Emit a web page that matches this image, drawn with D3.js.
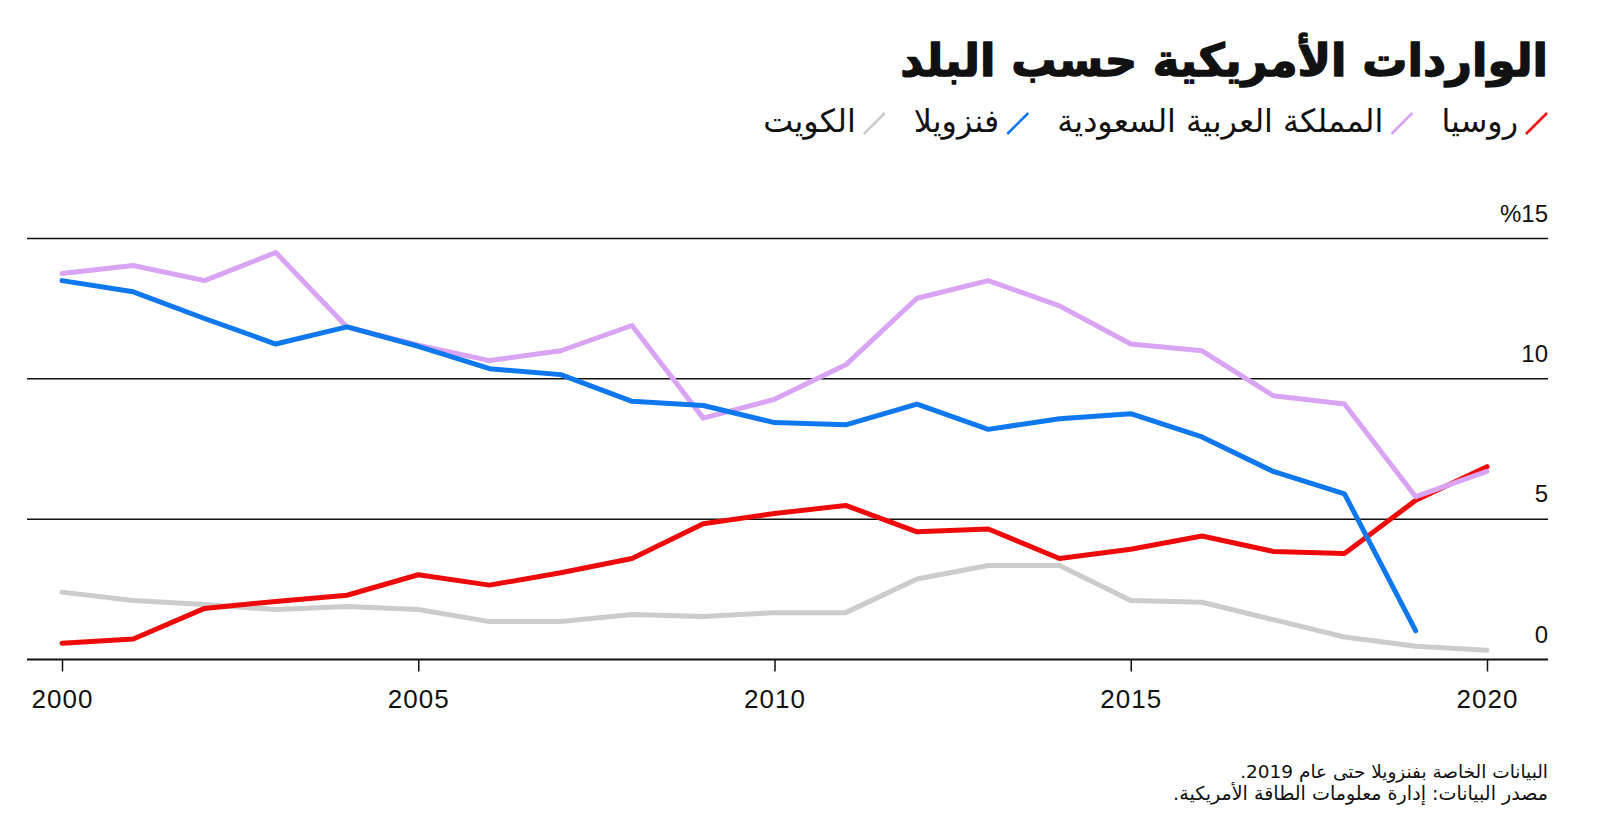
<!DOCTYPE html>
<html lang="ar">
<head>
<meta charset="utf-8">
<script src="https://cdn.jsdelivr.net/npm/d3@7/dist/d3.min.js"></script>
<style>
  html, body { margin: 0; padding: 0; background: #fff; }
  svg { display: block; }
  text { font-family: "DejaVu Sans", "Noto Sans", sans-serif; fill: #111; }
</style>
</head>
<body>
<svg id="chart" width="1600" height="819"></svg>
<script>
const years = d3.range(2000, 2021);
const russia    = [0.58, 0.73, 1.82, 2.07, 2.29, 3.02, 2.65, 3.09, 3.6, 4.84, 5.2, 5.49, 4.55, 4.65, 3.6, 3.93, 4.4, 3.85, 3.78, 5.67, 6.87];
const saudi     = [13.75, 14.04, 13.5, 14.5, 11.85, 11.2, 10.65, 11.0, 11.9, 8.6, 9.27, 10.5, 12.87, 13.5, 12.6, 11.24, 11.0, 9.4, 9.1, 5.8, 6.7];
const venezuela = [13.5, 13.1, 12.15, 11.24, 11.85, 11.16, 10.36, 10.15, 9.2, 9.05, 8.44, 8.36, 9.1, 8.2, 8.58, 8.76, 7.93, 6.7, 5.9, 1.02];
const kuwait    = [2.4, 2.1, 1.96, 1.78, 1.89, 1.78, 1.35, 1.35, 1.6, 1.53, 1.67, 1.67, 2.87, 3.35, 3.35, 2.1, 2.04, 1.42, 0.8, 0.47, 0.33];
const yTicks = [0, 5, 10, 15];
const yTickLabels = ["0", "5", "10", "%15"];
const xTicks = [2000, 2005, 2010, 2015, 2020];
const title = "الواردات الأمريكية حسب البلد";
const legendNames = ["روسيا", "المملكة العربية السعودية", "فنزويلا", "الكويت"];
const notes = ["البيانات الخاصة بفنزويلا حتى عام 2019.", "مصدر البيانات: إدارة معلومات الطاقة الأمريكية."];

const colors = { russia: "#ee0a0a", saudi: "#d9a4f4", venezuela: "#0f78ee", kuwait: "#cccccc" };

const svg = d3.select("#chart");
const left = 27, right = 1548;
const x = d3.scaleLinear().domain([2000, 2020]).range([62, 1487]);
const y = d3.scaleLinear().domain([0, 15]).range([659.5, 238.5]);

function fitText(sel, targetWidth, startSize) {
  sel.style("font-size", startSize + "px");
  const w = sel.node().getComputedTextLength();
  const size = startSize * targetWidth / w;
  sel.style("font-size", size + "px");
  return size;
}

// Title
const tt = svg.append("text").attr("x", right).attr("y", 76).attr("text-anchor", "start")
  .attr("direction", "rtl").style("font-weight", "bold")
  .attr("stroke", "#111").attr("stroke-width", 1.4).attr("stroke-linejoin", "round")
  .text(title);
fitText(tt, 648, 44);

// Legend (RTL)
const legendColors = [colors.russia, colors.saudi, colors.venezuela, colors.kuwait];
const slashW = 22, slashGap = 8, itemGap = 28;
function drawLegend(fs) {
  const lg = svg.append("g");
  let cursor = right;
  let textTotal = 0;
  legendNames.forEach((name, i) => {
    lg.append("line").attr("x1", cursor - slashW).attr("y1", 134).attr("x2", cursor - 1).attr("y2", 113)
      .attr("stroke", legendColors[i]).attr("stroke-width", 2.5);
    const t = lg.append("text").attr("x", cursor - slashW - slashGap).attr("y", 132).attr("text-anchor", "start")
      .attr("direction", "rtl").style("font-size", fs + "px").text(name);
    const w = t.node().getComputedTextLength();
    textTotal += w;
    cursor = cursor - slashW - slashGap - w - itemGap;
  });
  return { g: lg, textTotal };
}
const fixed = 4 * (slashW + slashGap) + 3 * itemGap;
let lgRes = drawLegend(25);
const fs2 = 25 * (785 - fixed) / lgRes.textTotal;
lgRes.g.remove();
drawLegend(fs2);

// Gridlines and y labels
yTicks.forEach((v, i) => {
  svg.append("line").attr("x1", left).attr("x2", right).attr("y1", y(v)).attr("y2", y(v))
    .attr("stroke", "#111").attr("stroke-width", v === 0 ? 2 : 1.5);
  svg.append("text").attr("x", right).attr("y", y(v) - 17).attr("text-anchor", "end")
    .style("font-size", "24px").style("font-family", "Liberation Sans, Arial, sans-serif")
    .text(yTickLabels[i]);
});

// X axis
const xAxis = d3.axisBottom(x).tickValues(xTicks).tickFormat(d3.format("d")).tickSize(12).tickPadding(18);
const gx = svg.append("g").attr("transform", `translate(0,${y(0)})`).call(xAxis);
gx.select(".domain").remove();
gx.selectAll(".tick line").attr("stroke", "#111").attr("stroke-width", 1.5);
gx.selectAll(".tick text").style("font-size", "26px").style("letter-spacing", "1px")
  .style("font-family", "Liberation Sans, Arial, sans-serif").attr("fill", "#111");

// Lines
const line = d3.line().x((d, i) => x(years[i])).y(d => y(d));
const series = [
  { data: kuwait, color: colors.kuwait },
  { data: russia, color: colors.russia },
  { data: saudi, color: colors.saudi },
  { data: venezuela, color: colors.venezuela }
];
series.forEach(s => {
  svg.append("path").datum(s.data).attr("d", line).attr("fill", "none")
    .attr("stroke", s.color).attr("stroke-width", 5)
    .attr("stroke-linejoin", "round").attr("stroke-linecap", "round");
});

// Notes
const noteWidths = [308, 375];
notes.forEach((n, i) => {
  const t = svg.append("text").attr("x", right).attr("y", 778 + i * 22).attr("text-anchor", "start")
    .attr("direction", "rtl").text(n);
  fitText(t, noteWidths[i], 17);
});
</script>
</body>
</html>
